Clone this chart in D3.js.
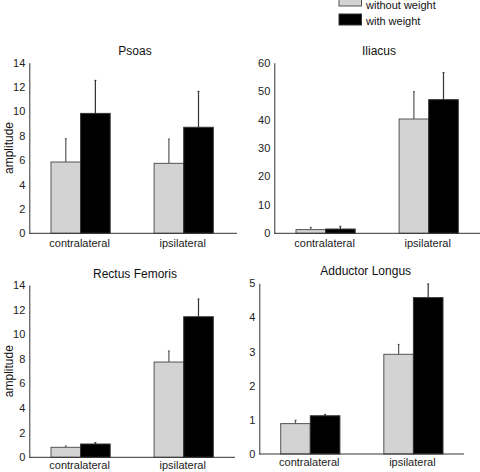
<!DOCTYPE html>
<html><head><meta charset="utf-8">
<script src="https://cdn.jsdelivr.net/npm/d3@7"></script>
<style>body{margin:0;background:#fff}svg{display:block;font-family:"Liberation Sans",Arial,sans-serif}</style>
</head><body><svg id="c" width="480" height="472"></svg>
<script>
const categories = ["contralateral", "ipsilateral"];
const seriesNames = ["without weight", "with weight"];
const panelTitles = ["Psoas", "Iliacus", "Rectus Femoris", "Adductor Longus"];

const psoasWithout = [5.85, 5.74], psoasWithoutErr = [1.91, 2.0];
const psoasWith = [9.84, 8.7], psoasWithErr = [2.71, 2.95];
const iliacusWithout = [1.3, 40.2], iliacusWithoutErr = [0.8, 9.6];
const iliacusWith = [1.5, 47.0], iliacusWithErr = [0.95, 9.5];
const rectusWithout = [0.81, 7.74], rectusWithoutErr = [0.11, 0.9];
const rectusWith = [1.08, 11.42], rectusWithErr = [0.11, 1.44];
const adductorWithout = [0.89, 2.92], adductorWithoutErr = [0.10, 0.29];
const adductorWith = [1.12, 4.58], adductorWithErr = [0.04, 0.40];

const psoasTicks = [0, 2, 4, 6, 8, 10, 12, 14];
const iliacusTicks = [0, 10, 20, 30, 40, 50, 60];
const rectusTicks = [0, 2, 4, 6, 8, 10, 12, 14];
const adductorTicks = [0, 1, 2, 3, 4, 5];

const panels = [
  {title: panelTitles[0], vals: [psoasWithout, psoasWith], errs: [psoasWithoutErr, psoasWithErr], ticks: psoasTicks,
   ax: 29.3, y0: 233.3, yTop: 62.7, bars: [51, 213.3], axEnd: 237, tx: 135, ty: 50.7, ylab: true, xly: 242.7},
  {title: panelTitles[1], vals: [iliacusWithout, iliacusWith], errs: [iliacusWithoutErr, iliacusWithErr], ticks: iliacusTicks,
   ax: 274.3, y0: 233.3, yTop: 62.7, bars: [296, 458.3], axEnd: 480, tx: 379, ty: 50.7, ylab: false, xly: 242.7},
  {title: panelTitles[2], vals: [rectusWithout, rectusWith], errs: [rectusWithoutErr, rectusWithErr], ticks: rectusTicks,
   ax: 29.3, y0: 457.3, yTop: 285, bars: [51, 213.3], axEnd: 235, tx: 135, ty: 273.3, ylab: true, xly: 465},
  {title: panelTitles[3], vals: [adductorWithout, adductorWith], errs: [adductorWithoutErr, adductorWithErr], ticks: adductorTicks,
   ax: 259.3, y0: 454, yTop: 283.3, bars: [280.7, 443], axEnd: 464, tx: 365.7, ty: 270.7, ylab: false, xly: 462}
];

const fills = ["#d3d3d3", "#000000"];
const strokes = ["#555555", "#333333"];
const svg = d3.select("#c");

panels.forEach(p => {
  const g = svg.append("g");
  const tmax = p.ticks[p.ticks.length - 1];
  const y = d3.scaleLinear().domain([0, tmax]).range([p.y0, p.yTop]);
  const x = d3.scaleBand().domain(categories).range(p.bars).paddingInner(0.426).paddingOuter(0);
  const xs = d3.scaleBand().domain(seriesNames).range([0, x.bandwidth()]).padding(0);

  // y axis
  const yAxis = d3.axisLeft(y).tickValues(p.ticks).tickSize(0).tickPadding(4).tickFormat(d3.format("d"));
  const ya = g.append("g").attr("transform", `translate(${p.ax},0)`).call(yAxis);
  ya.select(".domain").attr("stroke", "#333").attr("stroke-width", 1);
  ya.selectAll("text").attr("font-size", 11).attr("fill", "#222");

  // bars
  seriesNames.forEach((s, si) => {
    categories.forEach((c, ci) => {
      const v = p.vals[si][ci], e = p.errs[si][ci];
      const bx = x(c) + xs(s), bw = xs.bandwidth();
      const cx = bx + bw / 2;
      g.append("line").attr("x1", cx).attr("x2", cx).attr("y1", y(v)).attr("y2", y(v + e))
        .attr("stroke", strokes[si]).attr("stroke-width", 1.2);
      g.append("line").attr("x1", cx - 1).attr("x2", cx + 1).attr("y1", y(v + e)).attr("y2", y(v + e))
        .attr("stroke", strokes[si]).attr("stroke-width", 1);
      g.append("rect").attr("x", bx).attr("y", y(v)).attr("width", bw).attr("height", y(0) - y(v))
        .attr("fill", fills[si]).attr("stroke", strokes[si]).attr("stroke-width", 1);
    });
  });

  // x axis line
  g.append("line").attr("x1", p.ax).attr("x2", p.axEnd).attr("y1", p.y0).attr("y2", p.y0)
    .attr("stroke", "#333").attr("stroke-width", 1);
  categories.forEach(c => {
    g.append("text").attr("x", x(c) + x.bandwidth() / 2 - 1).attr("y", p.xly).attr("dy", "0.35em")
      .attr("text-anchor", "middle").attr("font-size", 11).attr("fill", "#222").text(c);
  });

  g.append("text").attr("x", p.tx).attr("y", p.ty).attr("dy", "0.35em").attr("text-anchor", "middle")
    .attr("font-size", 12).attr("fill", "#111").text(p.title);

  if (p.ylab) {
    const cy = (p.y0 + p.yTop) / 2;
    g.append("text").attr("transform", `translate(9,${cy}) rotate(-90)`).attr("dy", "0.35em")
      .attr("text-anchor", "middle").attr("font-size", 12).attr("fill", "#111").text("amplitude");
  }
});

// legend
const lg = svg.append("g");
const legY = [3.5, 19.5];
seriesNames.forEach((s, i) => {
  lg.append("rect").attr("x", 339).attr("y", legY[i] - 5.5 - (i === 0 ? 3 : 0)).attr("width", 22.5)
    .attr("height", 11 + (i === 0 ? 0 : 0)).attr("fill", fills[i]).attr("stroke", strokes[i]).attr("stroke-width", 1);
  lg.append("text").attr("x", 366).attr("y", legY[i] + 1.5).attr("dy", "0.35em").attr("font-size", 11)
    .attr("fill", "#111").text(s);
});
</script></body></html>
